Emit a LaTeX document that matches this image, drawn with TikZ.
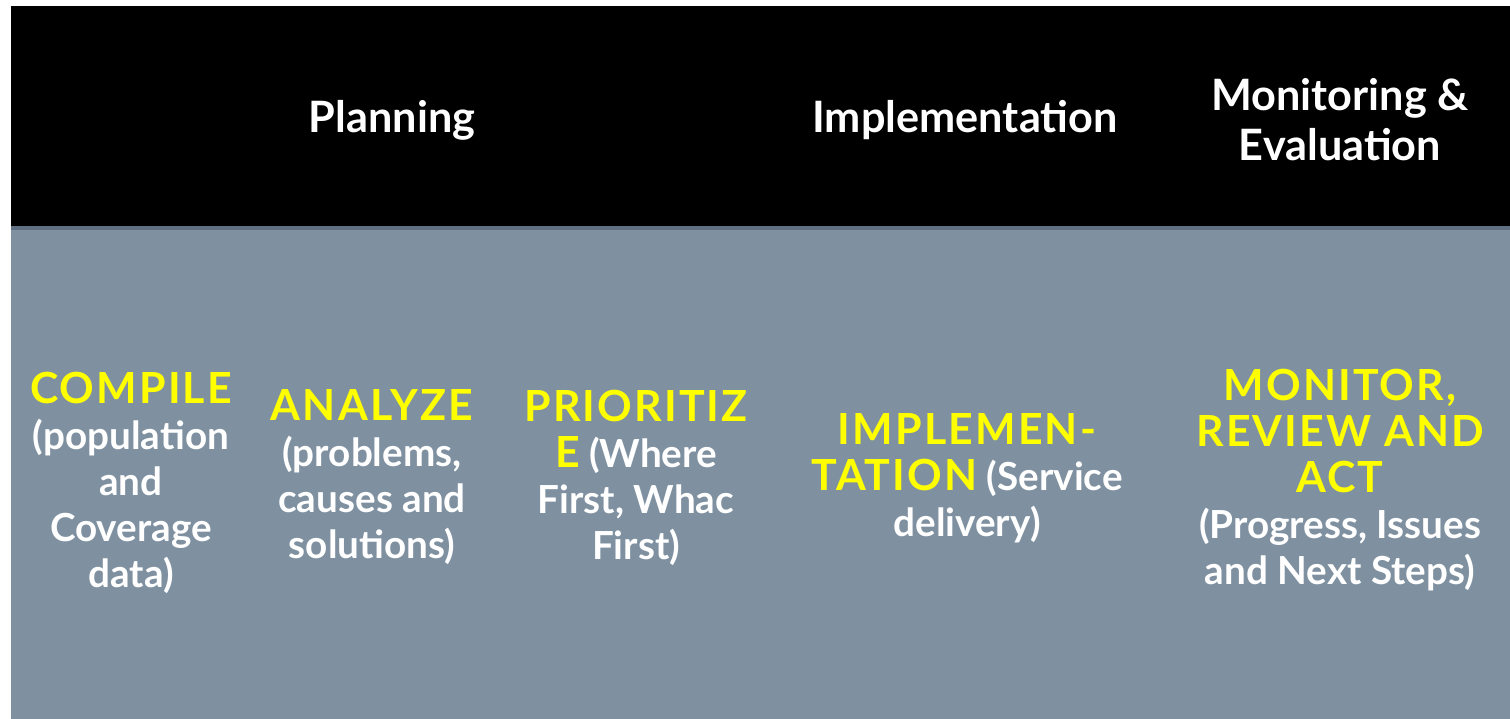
\documentclass[tikz,border=0pt]{standalone}
\usepackage{fontspec}
\setmainfont{Lato}
\usepackage{tikz}

\definecolor{bandgray}{HTML}{7F91A1}
\definecolor{edgegray}{HTML}{5F7080}
\definecolor{keyyellow}{HTML}{FFFF00}

% yellow step name, spaced out a little wider than the note beside it
\newcommand{\stepkey}[1]{{\color{keyyellow}\fontsize{12.2}{13.1}\selectfont\addfontfeature{LetterSpace=5}#1}}

\begin{document}
\begin{tikzpicture}[
        head/.style={text=white, font=\bfseries\fontsize{12.3}{14.2}\selectfont, align=center},
        cell/.style={text=white, font=\bfseries\fontsize{11}{13.1}\selectfont, align=center},
    ]
        \useasboundingbox (0,0) rectangle (15.1,7.19);
        % header band and body
        \fill [black] (0.11,4.93) rectangle (15.1,7.13);
        \fill [edgegray] (0.11,4.89) rectangle (15.1,4.93);
        \fill [bandgray] (0.11,0) rectangle (15.1,4.89);

        % phase titles
        \node [head] (planning) at (3.92,5.99) {Planning};
        \node [head] (implementation) at (9.65,5.99) {Implementation};
        \node [head] (monitoring) at (13.40,5.99) {Monitoring \&\\Evaluation};

        % steps
        \node [cell] (compile) at (1.31,2.36)
            {\stepkey{COMPILE}\\(population\\and\\Coverage\\data)};
        \node [cell] (analyze) at (3.72,2.42)
            {\stepkey{ANALYZE}\\(problems,\\causes and\\solutions)};
        \node [cell] (prioritize) at (6.36,2.41)
            {\stepkey{PRIORITIZ}\\\stepkey{E} (Where\\First, Whac\\First)};
        \node [cell] (implement) at (9.67,2.41)
            {\stepkey{IMPLEMEN-}\\\stepkey{TATION} (Service\\delivery)};
        \node [cell] (monitor) at (13.40,2.39)
            {\stepkey{MONITOR,}\\\stepkey{REVIEW AND}\\\stepkey{ACT}\\(Progress, Issues\\and Next Steps)};
    \end{tikzpicture}
\end{document}
